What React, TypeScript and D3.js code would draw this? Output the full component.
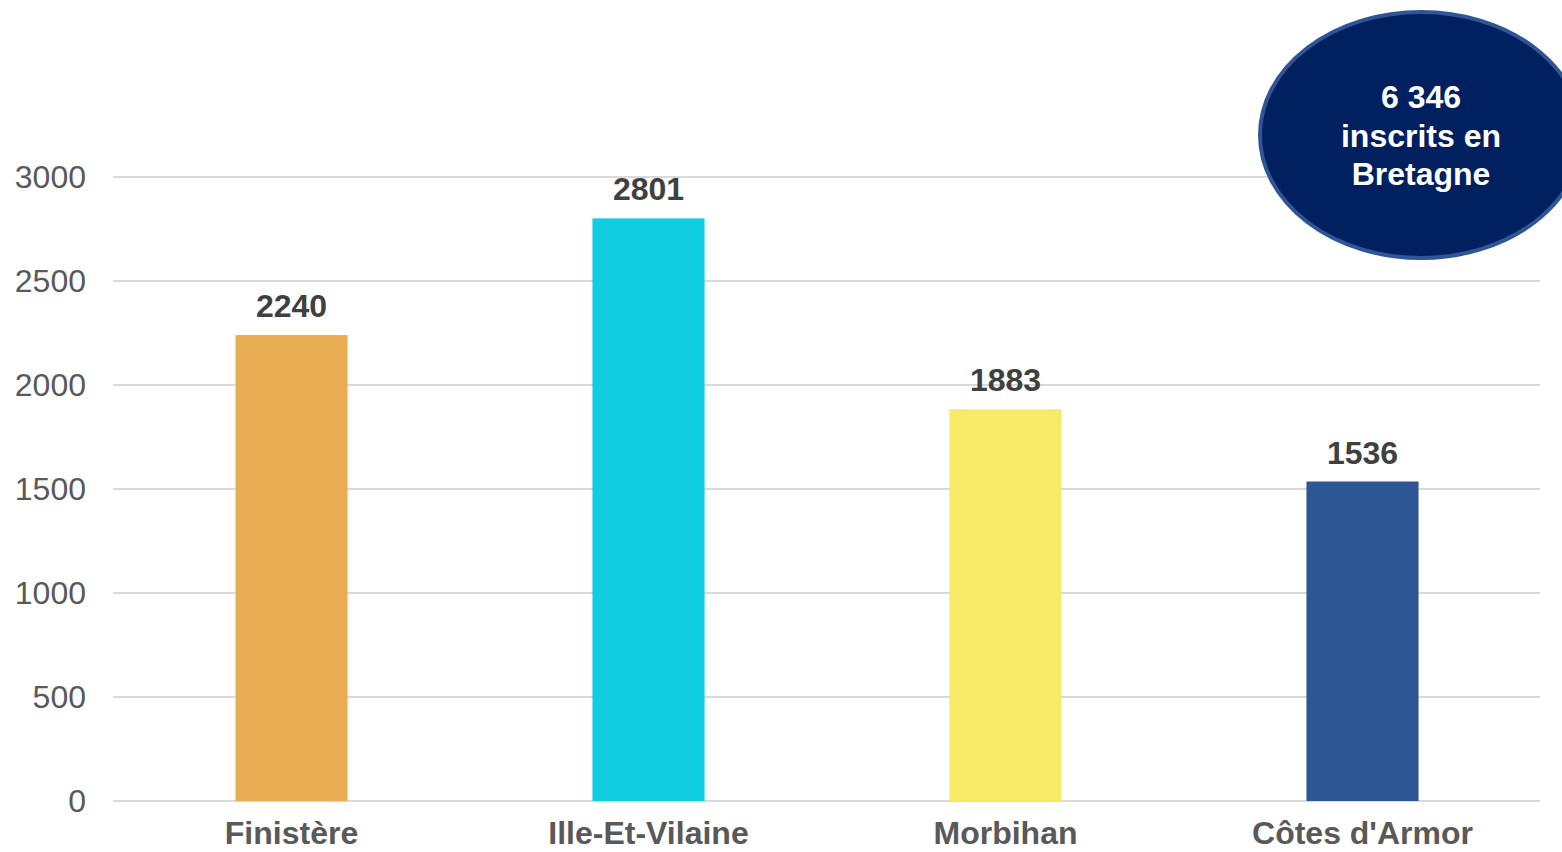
import React from "react";
import * as d3 from "d3";

const categories = ["Finistère", "Ille-Et-Vilaine", "Morbihan", "Côtes d'Armor"];
const values = [2240, 2801, 1883, 1536];
const colors = ["#E9AE54", "#10CDE0", "#F7EA67", "#2E5594"];
const yTicks = [0, 500, 1000, 1500, 2000, 2500, 3000];
const bubbleLines = ["6 346", "inscrits en", "Bretagne"];

const W = 1562;
const H = 852;
const FONT = "'Liberation Sans', Arial, sans-serif";

export default function App() {
  const x = d3.scaleBand<string>().domain(categories).range([113, 1541]).paddingInner(0.686).paddingOuter(0.343);
  const y = d3.scaleLinear().domain([0, 3000]).range([801, 177]);

  return (
    <svg width={W} height={H} style={{ position: "absolute", left: 0, top: 0, background: "#fff" }}>
      {yTicks.map((t) => (
        <g key={t}>
          <line x1={113} x2={1540} y1={y(t)} y2={y(t)} stroke="#D9D9D9" strokeWidth={2} />
          <text x={86} y={y(t) + 11} textAnchor="end" fontFamily={FONT} fontSize={32} fill="#595959">
            {t}
          </text>
        </g>
      ))}
      {categories.map((c, i) => (
        <g key={c}>
          <rect x={x(c)!} y={y(values[i])} width={x.bandwidth()} height={y(0) - y(values[i])} fill={colors[i]} />
          <text
            x={x(c)! + x.bandwidth() / 2}
            y={y(values[i]) - 18}
            textAnchor="middle"
            fontFamily={FONT}
            fontWeight="bold"
            fontSize={32}
            fill="#404040"
          >
            {values[i]}
          </text>
          <text
            x={x(c)! + x.bandwidth() / 2}
            y={844}
            textAnchor="middle"
            fontFamily={FONT}
            fontWeight="bold"
            fontSize={32}
            fill="#595959"
          >
            {c}
          </text>
        </g>
      ))}
      <ellipse cx={1421} cy={135} rx={161} ry={123} fill="#002060" stroke="#2F5597" strokeWidth={4} />
      {bubbleLines.map((l, i) => (
        <text
          key={l}
          x={1421}
          y={108 + i * 38.5}
          textAnchor="middle"
          fontFamily={FONT}
          fontWeight="bold"
          fontSize={32}
          fill="#FFFFFF"
        >
          {l}
        </text>
      ))}
    </svg>
  );
}
